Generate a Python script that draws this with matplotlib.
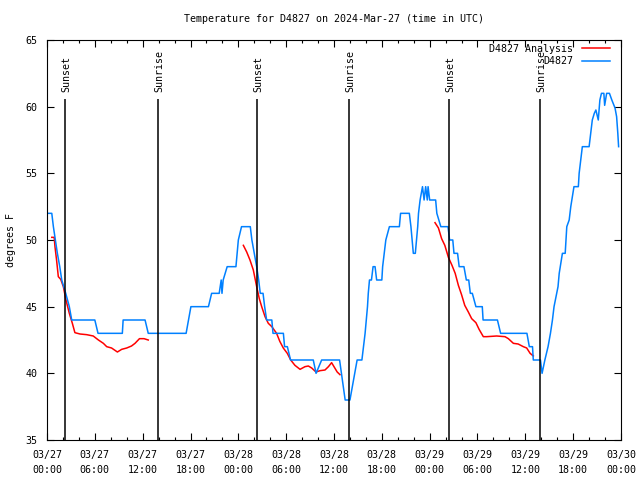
import numpy as np
import matplotlib
matplotlib.use('Agg')
import matplotlib.pyplot as plt
from datetime import datetime, timedelta

# hours since 2024-03-27 00:00 UTC
obs_hours = [0.0, 0.6, 0.8, 1.05, 1.3, 1.6, 1.85, 2.35, 2.8, 3.1, 6.0, 6.4, 9.45, 9.55,
             12.3, 12.7, 17.45, 18.05, 20.25, 20.65, 21.6, 21.85, 21.95, 22.1, 22.6, 23.7,
             24.0, 24.4, 25.5, 25.7, 26.0, 26.3, 26.55, 26.75, 27.1, 27.3, 27.55, 28.2,
             28.35, 29.65, 29.8, 30.15, 30.55, 33.4, 33.75, 34.45, 36.7, 37.4, 38.0, 38.9,
             39.5, 39.7, 39.9, 40.05, 40.2, 40.3, 40.45, 40.7, 40.9, 41.15, 41.35, 42.0,
             42.1, 42.3, 42.5, 42.95, 44.2, 44.35, 45.45, 45.65, 45.95, 46.2, 46.35, 46.5,
             46.6, 46.8, 47.1, 47.3, 47.5, 47.7, 47.8, 48.0, 48.75, 48.9, 49.4, 50.3, 50.5,
             50.9, 51.05, 51.5, 51.7, 52.3, 52.6, 52.9, 53.1, 53.35, 53.8, 54.6, 54.7, 56.5,
             56.9, 60.2, 60.5, 60.9, 61.0, 61.9, 62.1, 62.45, 62.85, 63.15, 63.4, 63.6,
             63.85, 64.1, 64.25, 64.45, 64.65, 65.0, 65.2, 65.5, 65.7, 65.9, 66.1, 66.65,
             66.75, 66.95, 67.15, 68.0, 68.2, 68.4, 68.65, 68.85, 69.15, 69.35, 69.55,
             69.85, 69.95, 70.2, 70.55, 70.85, 71.25, 71.45, 71.6, 71.7]
obs_temp = [52, 52, 51, 50, 49, 48, 47, 46, 45, 44, 44, 43, 43, 44,
            44, 43, 43, 45, 45, 46, 46, 47, 46, 47, 48, 48,
            50, 51, 51, 50, 49, 48, 47, 46, 46, 45, 44, 44,
            43, 43, 42, 42, 41, 41, 40, 41, 41, 38, 38, 41,
            41, 42, 43, 44, 45, 46, 47, 47, 48, 48, 47, 47,
            48, 49, 50, 51, 51, 52, 52, 51, 49, 49, 50, 51,
            52, 53, 54, 53, 54, 53, 54, 53, 53, 52, 51, 51, 50,
            50, 49, 49, 48, 48, 47, 47, 46, 46, 45, 45, 44, 44,
            43, 43, 42, 42, 41, 41, 40, 41, 42, 43, 44, 45,
            45.75, 46.5, 47.5, 48.25, 49, 49, 51, 51.5, 52.5, 53.25, 54, 54,
            55, 56, 57, 57, 58, 59, 59.5, 59.75, 59, 60.5, 61,
            61, 60.1, 61, 61, 60.5, 59.9, 59.25, 58, 57]

ana_hours = [0.6, 0.9, 1.0, 1.2, 1.42, 1.72, 2.05, 2.38, 2.8, 3.18, 3.5, 4.14, 4.98, 5.8,
             6.45, 7.07, 7.49, 8.1, 8.83, 9.37, 10.0, 10.6, 11.04, 11.6, 12.17, 12.7,
             np.nan,
             24.63, 25.05, 25.46, 25.88, 26.3, 26.63, 26.93, 27.35, 27.76, 28.2, 28.8,
             29.2, 29.64, 30.14, 30.57, 31.1, 31.74, 32.36, 32.78, 33.2, 33.74, 34.25,
             34.87, 35.3, 35.7, 36.0, 36.4, 36.75,
             np.nan,
             48.67, 49.1, 49.5, 49.9, 50.35, 50.8, 51.2, 51.6, 52.0, 52.4, 52.85, 53.27,
             53.8, 54.2, 54.73, 55.15, 56.4, 57.45, 57.87, 58.5, 59.1, 59.75, 60.17,
             60.6, 61.0]
ana_temp = [50.2, 50.2, 49.5, 48.5, 47.25, 47.05, 46.5, 45.5, 44.5, 43.75, 43.05, 42.95,
            42.9, 42.8, 42.5, 42.25, 42.0, 41.9, 41.6, 41.8, 41.9, 42.05, 42.25, 42.6,
            42.6, 42.5,
            np.nan,
            49.6, 49.1, 48.5, 47.75, 46.5, 45.6, 45.0, 44.25, 43.75, 43.5, 43.0,
            42.4, 41.9, 41.5, 41.0, 40.6, 40.3, 40.5, 40.55, 40.4, 40.1, 40.2,
            40.25, 40.5, 40.8, 40.5, 40.1, 39.9,
            np.nan,
            51.3, 50.9, 50.1, 49.6, 48.7, 48.1, 47.5, 46.6, 45.9, 45.1, 44.6, 44.1,
            43.8, 43.3, 42.75, 42.75, 42.8, 42.75, 42.6, 42.25, 42.2, 42.0, 41.9,
            41.5, 41.3]

sun_hours = [2.30, 13.96, 26.38, 37.92, 50.47, 61.88]
sun_labels = ['Sunset', 'Sunrise', 'Sunset', 'Sunrise', 'Sunset', 'Sunrise']

start = datetime(2024, 3, 27)
tick_hours = np.arange(0, 73, 6)
tick_labels = [(start + timedelta(hours=int(h))).strftime('%m/%d\n%H:%M') for h in tick_hours]

plt.rcParams['font.family'] = ['DejaVu Sans Mono']
plt.rcParams['font.size'] = 7.2

fig = plt.figure(figsize=(6.4, 4.8), dpi=100)
ax = fig.add_axes([47/640, 1 - 440/480, 574/640, 400/480])

ax.plot(ana_hours, ana_temp, color='#ff0000', lw=1.1, label='D4827 Analysis')
ax.plot(obs_hours, obs_temp, color='#0080ff', lw=1.1, label='D4827')

for h, lab in zip(sun_hours, sun_labels):
    ax.vlines(h, 35, 60.6, color='black', lw=1.1)
    ax.text(h + 0.15, 61.1, lab, rotation=90, ha='center', va='bottom')

ax.set_xlim(0, 72)
ax.set_ylim(35, 65)
ax.set_xticks(tick_hours)
ax.set_xticklabels(tick_labels, linespacing=1.6)
ax.set_xticks(np.arange(0, 73, 2), minor=True)
ax.set_yticks(np.arange(35, 66, 5))
ax.tick_params(which='both', direction='in', top=True, right=True, width=0.8)
ax.tick_params(which='major', length=5, pad=7)
ax.tick_params(which='minor', length=2.5)
for s in ax.spines.values():
    s.set_linewidth(0.8)

leg = ax.legend(loc='upper right', bbox_to_anchor=(0.981, 0.99), frameon=False,
                markerfirst=False, handlelength=2.8, handletextpad=0.9,
                labelspacing=0.25, borderpad=0, borderaxespad=0)

fig.text(334/640, 1 - 19/480, 'Temperature for D4827 on 2024-Mar-27 (time in UTC)',
         ha='center', va='center')
fig.text(11/640, 0.5, 'degrees F', rotation=90, ha='center', va='center')

fig.savefig('out.png', dpi=100)
